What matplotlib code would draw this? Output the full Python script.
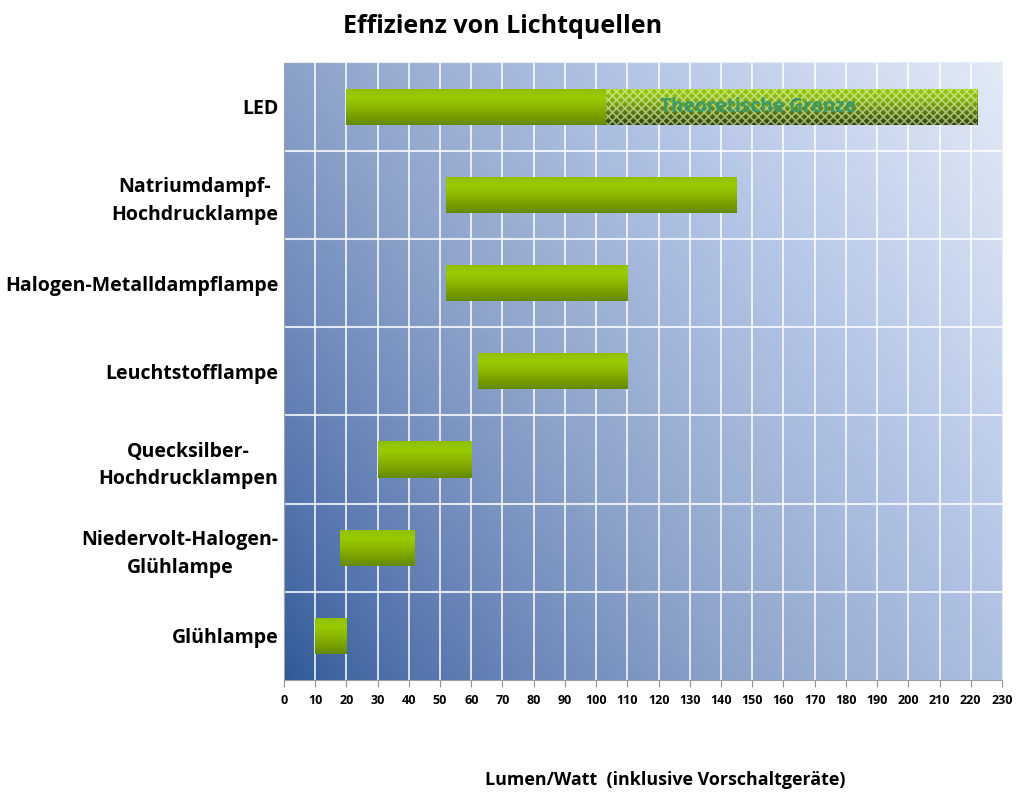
import numpy as np
import matplotlib
matplotlib.use("Agg")
import matplotlib.pyplot as plt
from matplotlib.colors import LinearSegmentedColormap
from matplotlib.patches import Rectangle

plt.rcParams['font.family'] = ['Open Sans', 'DejaVu Sans']
plt.rcParams['font.weight'] = 'bold'

# data, top to bottom as in the chart
lamps = ['LED', 'Natriumdampf-\nHochdrucklampe', 'Halogen-Metalldampflampe',
         'Leuchtstofflampe', 'Quecksilber-\nHochdrucklampen',
         'Niedervolt-Halogen-\nGlühlampe', 'Glühlampe']
eff_min = [20, 52, 52, 62, 30, 18, 10]
eff_max = [103, 145, 110, 110, 60, 42, 20]
led_limit = 222
limit_label = 'Theoretische Grenze'
xticks = list(range(0, 240, 10))

fig = plt.figure(figsize=(10.16, 7.93), dpi=100)
ax = fig.add_axes([0.2795, 0.1425, 0.7067, 0.7787])

xmin, xmax = 0, 230
n = len(lamps)
ypos = np.arange(n)[::-1]  # LED on top
ax.set_xlim(xmin, xmax)
ax.set_ylim(-0.5, n - 0.5)

# background gradient, dark blue lower left -> pale upper right
bg_cmap = LinearSegmentedColormap.from_list(
    'bg', ['#2b5797', '#5f7cb2', '#8fa4cb', '#b4c5e6', '#e2eaf6'])
u, v = np.meshgrid(np.linspace(0, 1, 300), np.linspace(1, 0, 240))
t = np.clip((0.62 * u + 0.38 * v) ** 0.75, 0, 1)
ax.imshow(t, cmap=bg_cmap, extent=[xmin, xmax, -0.5, n - 0.5],
          aspect='auto', zorder=0, vmin=0, vmax=1)

# grid
for x in xticks[1:-1]:
    ax.axvline(x, color='white', lw=1.3, alpha=0.85, zorder=1)
for y in np.arange(0.5, n - 0.5, 1):
    ax.axhline(y, color='white', lw=1.5, alpha=0.8, zorder=1)

bar_cmap = LinearSegmentedColormap.from_list(
    'bar', ['#8fbe00', '#99cc00', '#8cb800', '#78a000', '#668a00'])
lim_cmap = LinearSegmentedColormap.from_list(
    'lim', ['#94c800', '#8cbc10', '#6e9412', '#4c6a10', '#2c3e0c'])
grad = np.linspace(0, 1, 100).reshape(-1, 1)
h = 0.41

bars = ax.barh(ypos, np.array(eff_max) - np.array(eff_min), left=eff_min,
               height=h, color='#8cb800', zorder=2)
for b in bars:
    x0, y0 = b.get_x(), b.get_y()
    im = ax.imshow(grad, cmap=bar_cmap, aspect='auto', zorder=3,
                   extent=[x0, x0 + b.get_width(), y0, y0 + h])
    im.set_clip_path(b)

# theoretical limit for LED
lim = ax.barh(ypos[0], led_limit - eff_max[0], left=eff_max[0], height=h,
              color='#6e9412', zorder=2)[0]
x0, y0 = lim.get_x(), lim.get_y()
im = ax.imshow(grad, cmap=lim_cmap, aspect='auto', zorder=3,
               extent=[x0, x0 + lim.get_width(), y0, y0 + h])
im.set_clip_path(lim)
plt.rcParams['hatch.linewidth'] = 1.2
ax.add_patch(Rectangle((x0, y0), lim.get_width(), h, facecolor='none',
                       edgecolor='#e4f6b8', hatch='xxxx', lw=0, alpha=0.6,
                       zorder=4))
ax.text(152, ypos[0], limit_label, color='#3a9a6a', fontsize=13.8,
        fontweight='bold', ha='center', va='center', zorder=5)

ax.set_xticks(xticks)
ax.set_xticklabels([str(x) for x in xticks], fontsize=9, fontweight='bold')
ax.set_yticks(ypos)
ax.set_yticklabels(lamps, fontsize=14, fontweight='bold',
                   multialignment='center', linespacing=1.5)
ax.tick_params(axis='y', length=0, pad=4)
ax.tick_params(axis='x', length=5, color='#909090', pad=5)
for s in ['top', 'right']:
    ax.spines[s].set_color('#e8eef8')
for s in ['left', 'bottom']:
    ax.spines[s].set_color('#a0a0a0')

fig.text(0.495, 0.967, 'Effizienz von Lichtquellen', fontsize=18,
         fontweight='bold', ha='center', va='center')
fig.text(0.655, 0.017, 'Lumen/Watt  (inklusive Vorschaltgeräte)',
         fontsize=12.9, fontweight='bold', ha='center', va='center')

fig.savefig('out.png', dpi=100)
